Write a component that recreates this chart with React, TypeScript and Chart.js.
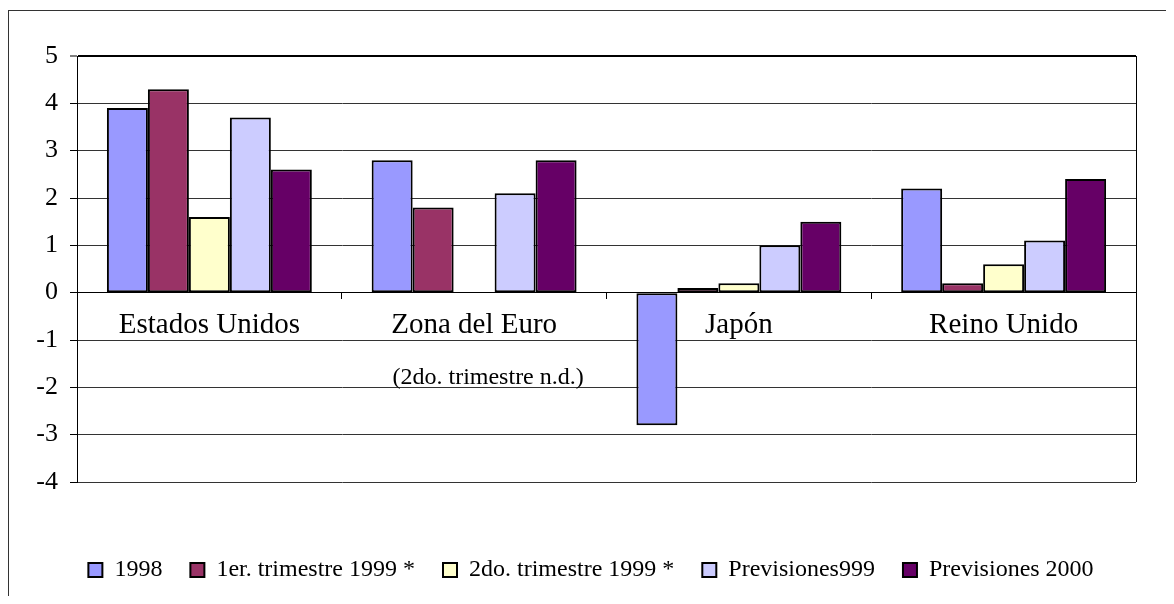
import { useEffect, useRef } from 'react';
import { Chart, registerables } from 'chart.js';

Chart.register(...registerables);

// Categories and series values (growth, %)
const categories = ['Estados Unidos', 'Zona del Euro', 'Japón', 'Reino Unido'];
const seriesLabels = ['1998', '1er. trimestre 1999 *', '2do. trimestre 1999 *', 'Previsiones999', 'Previsiones 2000'];
const values1998 = [3.9, 2.8, -2.8, 2.2];
const valuesQ1_1999 = [4.3, 1.8, 0.1, 0.2];
const valuesQ2_1999 = [1.6, null, 0.2, 0.6];
const forecast1999 = [3.7, 2.1, 1.0, 1.1];
const forecast2000 = [2.6, 2.8, 1.5, 2.4];
const seriesColors = ['#9999FF', '#993366', '#FFFFCC', '#CCCCFF', '#660066'];

// Value axis
const yMin = -4;
const yMax = 5;
const yStep = 1;

// Note under the euro-area group
const euroNote = '(2do. trimestre n.d.)';
const euroNoteCategory = 1;
const euroNoteValue = -1.8;

const SERIF = "'Times New Roman', 'Liberation Serif', serif";

const plotFrame = {
  id: 'plotFrame',
  beforeDatasetsDraw(chart: any) {
    const { ctx, chartArea: a } = chart;
    ctx.save();
    ctx.strokeStyle = '#000';
    ctx.lineWidth = 1;
    const x = Math.round(a.right) + 0.5;
    ctx.beginPath();
    ctx.moveTo(x, a.top);
    ctx.lineTo(x, a.bottom);
    ctx.stroke();
    ctx.restore();
  },
  afterDatasetsDraw(chart: any) {
    const { ctx, scales } = chart;
    const x = scales.x.getPixelForValue(euroNoteCategory) + 14;
    const y = scales.y.getPixelForValue(euroNoteValue);
    ctx.save();
    ctx.font = `24px ${SERIF}`;
    ctx.fillStyle = '#000';
    ctx.textAlign = 'center';
    ctx.textBaseline = 'middle';
    ctx.fillText(euroNote, x, y);
    ctx.restore();
  },
};

export default function App() {
  const canvasRef = useRef<HTMLCanvasElement | null>(null);

  useEffect(() => {
    if (!canvasRef.current) return;
    const seriesData = [values1998, valuesQ1_1999, valuesQ2_1999, forecast1999, forecast2000];
    const chart = new Chart(canvasRef.current, {
      type: 'bar',
      data: {
        labels: categories,
        datasets: seriesLabels.map((label, i) => ({
          label,
          data: seriesData[i],
          backgroundColor: seriesColors[i],
          borderColor: '#000',
          borderWidth: 2,
          borderSkipped: false,
          xAxisID: 'x',
          yAxisID: 'y',
          barPercentage: 1,
          categoryPercentage: 0.774,
        })),
      },
      options: {
        animation: false,
        responsive: true,
        maintainAspectRatio: false,
        layout: { padding: { left: 0, right: 0, top: 45, bottom: 4 } },
        scales: {
          x: {
            type: 'category',
            position: { y: 0 } as any,
            offset: true,
            grid: {
              drawOnChartArea: false,
              drawTicks: true,
              tickLength: 6,
              tickColor: '#000',
              offset: true,
            },
            border: { color: '#000', width: 1 },
            ticks: {
              color: '#000',
              font: { family: SERIF, size: 29 },
              padding: 9,
              maxRotation: 0,
              autoSkip: false,
            },
          },
          // reserves room between the plot and the legend
          xSpacer: {
            type: 'category',
            position: 'bottom',
            grid: { display: false },
            border: { display: false },
            ticks: { display: false },
            afterFit: (s: any) => {
              s.height = 48;
            },
          },
          y: {
            type: 'linear',
            min: yMin,
            max: yMax,
            ticks: {
              stepSize: yStep,
              color: '#000',
              font: { family: SERIF, size: 26 },
              padding: 12,
            },
            grid: {
              color: (c: any) => (c.tick && c.tick.value === yMax ? '#000' : '#333'),
              lineWidth: (c: any) => (c.tick && c.tick.value === yMax ? 2 : 1),
              drawTicks: true,
              tickLength: 7,
              tickColor: '#000',
              tickWidth: 1,
            },
            border: { color: '#000', width: 1 },
            afterFit: (s: any) => {
              s.width = 68;
            },
          },
          // empty margin to the right of the plot
          ySpacer: {
            type: 'linear',
            position: 'right',
            grid: { display: false },
            border: { display: false },
            ticks: { display: false },
            afterFit: (s: any) => {
              s.width = 37;
            },
          },
        },
        plugins: {
          legend: {
            position: 'bottom',
            labels: {
              boxWidth: 14,
              boxHeight: 14,
              padding: 28,
              color: '#000',
              font: { family: SERIF, size: 24 },
            },
          },
          tooltip: { enabled: false },
        },
      },
      plugins: [plotFrame],
    });
    return () => chart.destroy();
  }, []);

  return (
    <div style={{ paddingTop: 2 }}>
      <div
        style={{
          width: 1164,
          height: 585,
          borderLeft: '1px solid #333',
          borderTop: '1px solid #333',
        }}
      >
        <div style={{ position: 'relative', width: 1164, height: 585 }}>
          <canvas ref={canvasRef} />
        </div>
      </div>
    </div>
  );
}
